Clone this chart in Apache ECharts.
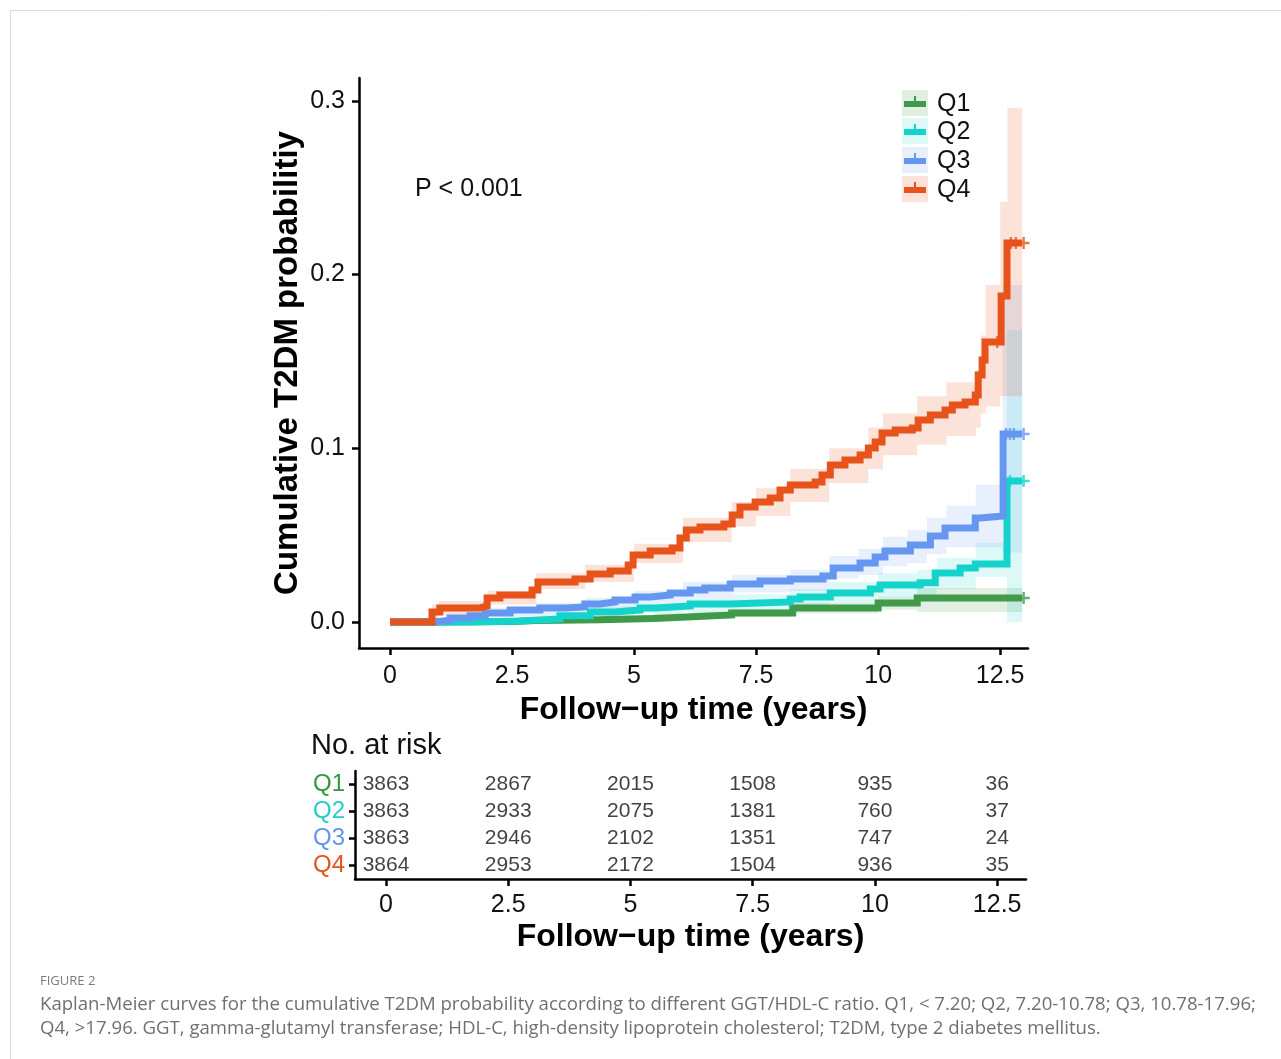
<!DOCTYPE html>
<html>
<head>
<meta charset="utf-8">
<title>KM curves</title>
<script src="https://cdn.jsdelivr.net/npm/echarts@6/dist/echarts.min.js"></script>
<style>
  html, body { margin: 0; padding: 0; background: #fff; }
  #chart { width: 1281px; height: 1059px; }
</style>
</head>
<body>
<div id="chart"></div>
<script>
// ---- data ----
var groups = ['Q1', 'Q2', 'Q3', 'Q4'];
var xTicks = [0, 2.5, 5, 7.5, 10, 12.5];
var yTicks = [0, 0.1, 0.2, 0.3];

// cumulative incidence steps [time, value]
var q1Curve = [[0, 0], [1.0, 0.0003], [2.5, 0.0008], [3.0, 0.0012], [4.3, 0.002], [5.4, 0.003], [6.2, 0.004], [7.0, 0.0052], [8.25, 0.0081], [10.0, 0.0109], [10.8, 0.0138], [12.95, 0.0138]];
var q2Curve = [[0, 0], [1.64, 0.0006], [2.66, 0.0017], [3.48, 0.0035], [4.1, 0.0058], [4.61, 0.0069], [5.12, 0.0081], [5.43, 0.0092], [6.15, 0.0104], [6.97, 0.0115], [8.2, 0.0132], [8.4, 0.0144], [9.02, 0.0167], [9.84, 0.019], [10.04, 0.0213], [10.86, 0.0225], [11.17, 0.0282], [11.68, 0.0311], [11.99, 0.0334], [12.64, 0.0812], [12.95, 0.0812]];
var q3Curve = [[0, 0], [0.92, 0.001], [1.23, 0.0023], [1.64, 0.0035], [1.95, 0.0052], [2.46, 0.0069], [3.07, 0.0081], [3.59, 0.0086], [3.99, 0.0104], [4.3, 0.0115], [4.61, 0.0127], [5.02, 0.0144], [5.33, 0.0155], [5.74, 0.0167], [6.15, 0.0184], [6.45, 0.0196], [6.97, 0.0219], [7.58, 0.0236], [8.2, 0.0248], [8.87, 0.0265], [9.08, 0.0311], [9.63, 0.034], [9.94, 0.0374], [10.14, 0.0409], [10.66, 0.0443], [11.07, 0.0495], [11.37, 0.0541], [11.99, 0.0599], [12.09, 0.061], [12.56, 0.1082], [12.95, 0.1082]];
var q4Curve = [[0, 0], [0.86, 0.0058], [1.02, 0.0081], [1.84, 0.0092], [1.99, 0.0138], [2.25, 0.0155], [2.91, 0.0184], [3.03, 0.023], [3.79, 0.0248], [4.1, 0.0276], [4.51, 0.0294], [4.88, 0.0328], [4.98, 0.0386], [5.33, 0.0409], [5.78, 0.0426], [5.94, 0.0484], [6.07, 0.053], [6.35, 0.0547], [6.84, 0.0564], [7.01, 0.0616], [7.17, 0.0662], [7.48, 0.0691], [7.79, 0.0714], [7.99, 0.076], [8.2, 0.0789], [8.71, 0.0806], [8.85, 0.0846], [9.02, 0.0904], [9.32, 0.0933], [9.63, 0.0961], [9.8, 0.1002], [9.94, 0.1036], [10.08, 0.1088], [10.35, 0.1105], [10.7, 0.1117], [10.82, 0.1163], [11.07, 0.1192], [11.37, 0.122], [11.52, 0.1249], [11.78, 0.1267], [11.99, 0.1307], [12.05, 0.1422], [12.13, 0.1508], [12.19, 0.1612], [12.52, 0.1877], [12.64, 0.2182], [12.95, 0.2182]];

// 95% bands [time, lower, upper]
var q1Band = [[0, 0, 0], [1.8, 0, 0.001], [3.0, 0.0003, 0.0025], [4.3, 0.0008, 0.0035], [5.4, 0.0015, 0.0048], [6.2, 0.0022, 0.006], [7.0, 0.003, 0.0075], [8.25, 0.005, 0.011], [10.0, 0.007, 0.0145], [10.8, 0.0058, 0.0196], [12.95, 0.0058, 0.0196]];
var q2Band = [[0, 0, 0], [1.6, 0, 0.002], [3.0, 0.001, 0.005], [4.1, 0.003, 0.009], [5.0, 0.005, 0.011], [6.0, 0.006, 0.014], [7.0, 0.007, 0.016], [8.2, 0.008, 0.019], [9.0, 0.011, 0.023], [10.0, 0.014, 0.028], [10.8, 0.015, 0.03], [11.2, 0.019, 0.037], [12.0, 0.026, 0.0455], [12.64, 0.0, 0.168], [12.95, 0.0, 0.168]];
var q3Band = [[0, 0, 0], [0.92, 0, 0.002], [2.0, 0.003, 0.008], [3.0, 0.005, 0.011], [4.0, 0.007, 0.014], [5.0, 0.011, 0.018], [6.0, 0.014, 0.023], [7.0, 0.017, 0.027], [8.2, 0.018, 0.03], [9.0, 0.025, 0.038], [9.6, 0.027, 0.042], [10.1, 0.032, 0.049], [10.6, 0.034, 0.053], [11.0, 0.039, 0.06], [11.4, 0.043, 0.067], [12.0, 0.043, 0.079], [12.55, 0.04, 0.194], [12.95, 0.04, 0.194]];
var q4Band = [[0, 0, 0], [0.86, 0.002, 0.01], [1.0, 0.004, 0.012], [2.0, 0.01, 0.018], [3.0, 0.019, 0.028], [4.0, 0.023, 0.033], [5.0, 0.034, 0.045], [6.0, 0.046, 0.06], [7.0, 0.055, 0.069], [7.5, 0.061, 0.077], [8.2, 0.069, 0.088], [9.0, 0.08, 0.1], [9.8, 0.088, 0.112], [10.1, 0.096, 0.12], [10.8, 0.102, 0.13], [11.4, 0.107, 0.138], [12.0, 0.112, 0.145], [12.1, 0.12, 0.165], [12.2, 0.124, 0.194], [12.5, 0.13, 0.242], [12.65, 0.13, 0.296], [12.95, 0.13, 0.296]];

// censored ends [time, value]
var q1Censor = [[12.98, 0.0138]];
var q2Censor = [[12.7, 0.0812], [12.98, 0.0812]];
var q3Censor = [[12.62, 0.1082], [12.7, 0.1082], [12.78, 0.1082], [12.98, 0.1082]];
var q4Censor = [[12.44, 0.1612], [12.72, 0.2182], [12.82, 0.2182], [12.98, 0.2182]];

// number at risk
var riskTimes = [0, 2.5, 5, 7.5, 10, 12.5];
var riskQ1 = [3863, 2867, 2015, 1508, 935, 36];
var riskQ2 = [3863, 2933, 2075, 1381, 760, 37];
var riskQ3 = [3863, 2946, 2102, 1351, 747, 24];
var riskQ4 = [3864, 2953, 2172, 1504, 936, 35];

var lineColors = ['#41994a', '#14d3cb', '#6597f0', '#e8521b'];
var bandColors = ['rgba(65,153,74,0.16)', 'rgba(20,211,203,0.15)', 'rgba(101,151,240,0.15)', 'rgba(232,82,27,0.16)'];
var labelColors = ['#2f9a3c', '#22cfc6', '#6495ed', '#e8521b'];

var FONT = 'Liberation Sans, Arial, sans-serif';

var chart = echarts.init(document.getElementById('chart'));

function bandSeries(rows, color) {
  return {
    type: 'custom',
    xAxisIndex: 0, yAxisIndex: 0,
    silent: true, z: 1,
    data: rows,
    encode: { x: 0, y: [1, 2] },
    renderItem: function (params, api) {
      if (params.dataIndex !== 0) return null;
      var top = [], bot = [];
      for (var i = 0; i < rows.length; i++) {
        var x0 = rows[i][0];
        var x1 = i + 1 < rows.length ? rows[i + 1][0] : rows[i][0];
        top.push(api.coord([x0, rows[i][2]]), api.coord([x1, rows[i][2]]));
        bot.push(api.coord([x0, rows[i][1]]), api.coord([x1, rows[i][1]]));
      }
      return { type: 'polygon', shape: { points: top.concat(bot.reverse()) }, style: { fill: color } };
    }
  };
}

function curveSeries(name, data, color, z) {
  return {
    name: name, type: 'line', step: 'end',
    xAxisIndex: 0, yAxisIndex: 0,
    data: data, showSymbol: false, symbol: 'none',
    lineStyle: { color: color, width: 7, cap: 'butt', join: 'miter' },
    z: z, silent: true
  };
}

var plusPath = 'path://M4,0h2v4h4v2h-4v4h-2v-4h-4v-2h4z';
function censorSeries(data, color, z) {
  return {
    type: 'scatter', xAxisIndex: 0, yAxisIndex: 0,
    data: data, symbol: plusPath, symbolSize: 12,
    itemStyle: { color: color }, z: z, silent: true
  };
}

function riskSeries(name, counts) {
  var d = [];
  for (var i = 0; i < riskTimes.length; i++) d.push([riskTimes[i], name, counts[i]]);
  return {
    type: 'scatter', xAxisIndex: 1, yAxisIndex: 1,
    data: d, symbolSize: 0, silent: true,
    label: {
      show: true, position: 'inside', color: '#111',
      fontFamily: FONT, fontSize: 21,
      formatter: function (p) { return String(p.value[2]); }
    }
  };
}

var legendGraphics = [];
var legendY = [103, 131, 160, 189];
for (var i = 0; i < groups.length; i++) {
  legendGraphics.push(
    { type: 'rect', shape: { x: 902, y: legendY[i] - 13, width: 26, height: 26 }, style: { fill: bandColors[i] } },
    { type: 'rect', shape: { x: 904, y: legendY[i] - 2, width: 22, height: 6 }, style: { fill: lineColors[i] } },
    { type: 'rect', shape: { x: 914, y: legendY[i] - 7, width: 2, height: 8 }, style: { fill: lineColors[i] } },
    { type: 'text', x: 937, y: legendY[i] + 1, style: { text: groups[i], font: '25px ' + FONT, fill: '#111', verticalAlign: 'middle' } }
  );
}

var axisLineStyle = { show: true, onZero: false, lineStyle: { color: '#000', width: 2.5 } };

var option = {
  animation: false,
  backgroundColor: '#fff',
  grid: [
    { left: 359, top: 78, width: 669, height: 570, outerBoundsMode: 'none' },
    { left: 355, top: 771, width: 671, height: 108, outerBoundsMode: 'none' }
  ],
  xAxis: [
    {
      type: 'value', gridIndex: 0, min: -0.635, max: 13.07,
      name: 'Follow\u2212up time (years)', nameLocation: 'middle', nameGap: 46,
      nameTextStyle: { fontFamily: FONT, fontSize: 32, fontWeight: 'bold', color: '#000' },
      axisLine: axisLineStyle,
      axisTick: { show: true, length: 7, lineStyle: { color: '#000', width: 2.5 }, customValues: xTicks },
      axisLabel: { show: true, margin: 16, fontFamily: FONT, fontSize: 25, color: '#111', customValues: xTicks,
        formatter: function (v) { return String(v); } },
      splitLine: { show: false }
    },
    {
      type: 'value', gridIndex: 1, min: -0.634, max: 13.09,
      name: 'Follow\u2212up time (years)', nameLocation: 'middle', nameGap: 42,
      nameTextStyle: { fontFamily: FONT, fontSize: 32, fontWeight: 'bold', color: '#000' },
      axisLine: axisLineStyle,
      axisTick: { show: true, length: 7, lineStyle: { color: '#000', width: 2.5 }, customValues: xTicks },
      axisLabel: { show: true, margin: 14, fontFamily: FONT, fontSize: 25, color: '#111', customValues: xTicks,
        formatter: function (v) { return String(v); } },
      splitLine: { show: false }
    }
  ],
  yAxis: [
    {
      type: 'value', gridIndex: 0, min: -0.015, max: 0.3132,
      name: 'Cumulative T2DM probabilitiy', nameLocation: 'middle', nameGap: 55, nameMoveOverlap: false,
      nameTextStyle: { fontFamily: FONT, fontSize: 33, fontWeight: 'bold', color: '#000' },
      axisLine: axisLineStyle,
      axisTick: { show: true, length: 7, lineStyle: { color: '#000', width: 2.5 }, customValues: yTicks },
      axisLabel: { show: true, margin: 14, fontFamily: FONT, fontSize: 25, color: '#111', customValues: yTicks,
        formatter: function (v) { return v.toFixed(1); } },
      splitLine: { show: false }
    },
    {
      type: 'category', gridIndex: 1, data: groups.slice().reverse(),
      axisLine: axisLineStyle,
      axisTick: { show: true, length: 6, alignWithLabel: true, interval: 0, lineStyle: { color: '#000', width: 2.5 } },
      axisLabel: { show: true, interval: 0, margin: 10, fontFamily: FONT, fontSize: 24, hideOverlap: false,
        color: function (v) { return labelColors[groups.indexOf(v)]; } },
      splitLine: { show: false }
    }
  ],
  graphic: [
    { type: 'line', shape: { x1: 10, y1: 10.5, x2: 1281, y2: 10.5 }, style: { stroke: '#dcdcdc', lineWidth: 1 } },
    { type: 'line', shape: { x1: 10.5, y1: 10, x2: 10.5, y2: 1059 }, style: { stroke: '#dcdcdc', lineWidth: 1 } },
    { type: 'text', x: 415, y: 189, style: { text: 'P < 0.001', font: '25px ' + FONT, fill: '#111', verticalAlign: 'middle' } },
    { type: 'text', x: 311, y: 746, style: { text: 'No. at risk', font: '29px ' + FONT, fill: '#111', verticalAlign: 'middle' } },
    { type: 'text', x: 40, y: 981, style: { text: 'FIGURE 2', font: '13px Open Sans, sans-serif', fill: '#7a7a7a', verticalAlign: 'middle' } },
    { type: 'text', x: 40, y: 1005, style: { text: 'Kaplan-Meier curves for the cumulative T2DM probability according to different GGT/HDL-C ratio. Q1, < 7.20; Q2, 7.20-10.78; Q3, 10.78-17.96;', font: '18.6px Open Sans, sans-serif', fill: '#707070', verticalAlign: 'middle' } },
    { type: 'text', x: 40, y: 1029, style: { text: 'Q4, >17.96. GGT, gamma-glutamyl transferase; HDL-C, high-density lipoprotein cholesterol; T2DM, type 2 diabetes mellitus.', font: '18.6px Open Sans, sans-serif', fill: '#707070', verticalAlign: 'middle' } }
  ].concat(legendGraphics),
  series: [
    bandSeries(q1Band, bandColors[0]),
    bandSeries(q2Band, bandColors[1]),
    bandSeries(q3Band, bandColors[2]),
    bandSeries(q4Band, bandColors[3]),
    curveSeries('Q1', q1Curve, lineColors[0], 3),
    curveSeries('Q2', q2Curve, lineColors[1], 4),
    curveSeries('Q3', q3Curve, lineColors[2], 5),
    curveSeries('Q4', q4Curve, lineColors[3], 6),
    censorSeries(q1Censor, lineColors[0], 3),
    censorSeries(q2Censor, lineColors[1], 4),
    censorSeries(q3Censor, lineColors[2], 5),
    censorSeries(q4Censor, lineColors[3], 6),
    riskSeries('Q1', riskQ1),
    riskSeries('Q2', riskQ2),
    riskSeries('Q3', riskQ3),
    riskSeries('Q4', riskQ4)
  ]
};

chart.setOption(option);
</script>
</body>
</html>
